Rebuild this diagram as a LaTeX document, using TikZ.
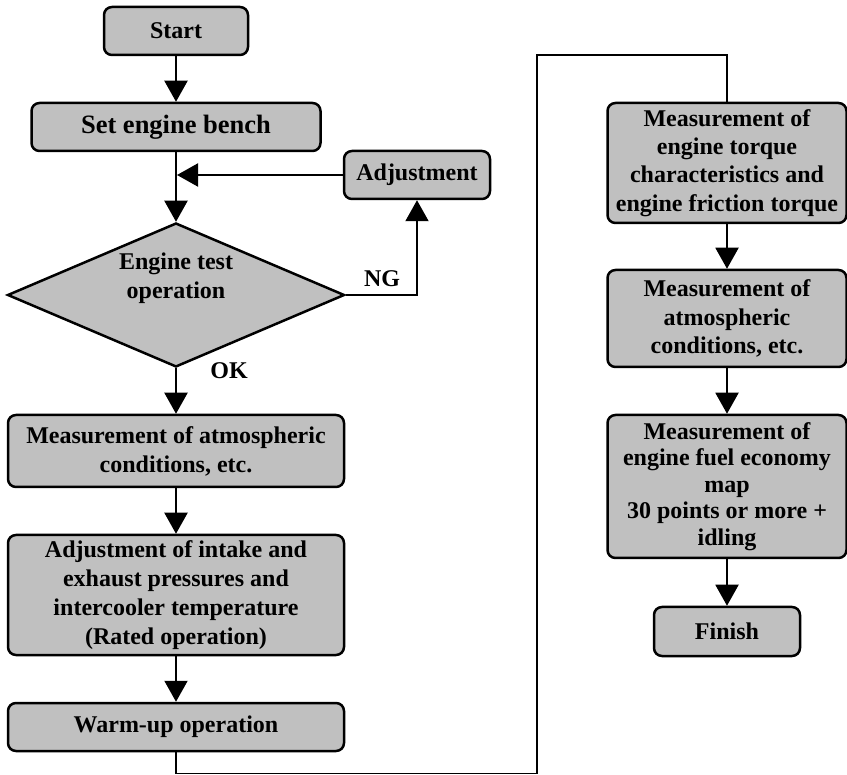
\documentclass[tikz,border=0pt]{standalone}
\usepackage{fontspec}
\setmainfont{Liberation Serif}
\usetikzlibrary{shapes.geometric,arrows.meta}
\definecolor{boxgray}{RGB}{192,192,192}

\begin{document}
\begin{tikzpicture}[x=1pt,y=-1pt,
  box/.style={draw=black, fill=boxgray, line width=2.5pt, rounded corners=8pt,
    inner sep=0pt, align=center, font=\bfseries\fontsize{24}{29}\selectfont},
  decision/.style={draw=black, fill=boxgray, line width=2.5pt, shape=diamond,
    inner sep=0pt},
  lbl/.style={inner sep=0pt, align=center, font=\bfseries\fontsize{24}{29}\selectfont},
  flow/.style={line width=2pt, -{Triangle[width=23pt,length=21pt]}},
  route/.style={line width=1.6pt}
]
\useasboundingbox (0,0) rectangle (847,775);

% left column
\node[box, minimum width=144pt, minimum height=48pt] (start) at (176,31) {Start};
\node[box, minimum width=289pt, minimum height=48pt,
      font=\bfseries\fontsize{26.5}{31}\selectfont] (bench) at (176,127) {Set engine bench};
\node[box, minimum width=146pt, minimum height=48pt] (adj) at (417,175) {Adjustment};
\node[decision, minimum width=337pt, minimum height=144pt] (dec) at (176,295) {};
\node[lbl] (dectext) at (176,278) {Engine test\\operation};
\node[lbl] (ng) at (382,279) {NG};
\node[lbl] (ok) at (229,371) {OK};
\node[box, minimum width=336pt, minimum height=72pt] (atm) at (176,451)
  {Measurement of atmospheric\\conditions, etc.};
\node[box, minimum width=336pt, minimum height=120pt] (intake) at (176,595)
  {Adjustment of intake and\\exhaust pressures and\\intercooler temperature\\(Rated operation)};
\node[box, minimum width=336pt, minimum height=48pt] (warm) at (176,727) {Warm-up operation};

% right column
\node[box, minimum width=239pt, minimum height=120pt,
      font=\bfseries\fontsize{24}{28.3}\selectfont] (torque) at (727,163)
  {Measurement of\\engine torque\\characteristics and\\engine friction torque};
\node[box, minimum width=239pt, minimum height=97pt,
      font=\bfseries\fontsize{24}{28.5}\selectfont] (atm2) at (727,318.5)
  {Measurement of\\atmospheric\\conditions, etc.};
\node[box, minimum width=239pt, minimum height=143pt,
      font=\bfseries\fontsize{24}{26.5}\selectfont] (fuel) at (727,486.5)
  {Measurement of\\engine fuel economy\\map\\30 points or more +\\idling};
\node[box, minimum width=146pt, minimum height=49pt] (fin) at (727,631.5) {Finish};

% connectors
\coordinate (join) at (bench.south |- adj.west);
\coordinate (low) at (537,773.5);
\coordinate (high) at (537,55);

\draw[flow] (start) -- (bench);
\draw[flow] (bench) -- (dec.north);
\draw[flow, shorten >=1pt] (adj.west) -- (join);
\draw[flow] (dec.east) -| (adj.south);
\draw[flow] (dec.south) -- (atm.north);
\draw[flow] (atm) -- (intake);
\draw[flow] (intake) -- (warm);
\draw[route] (warm.south) |- (low) -- (high) -| (torque.north);
\draw[flow] (torque) -- (atm2);
\draw[flow] (atm2) -- (fuel);
\draw[flow] (fuel.south) -- (fin.north);
\end{tikzpicture}
\end{document}
